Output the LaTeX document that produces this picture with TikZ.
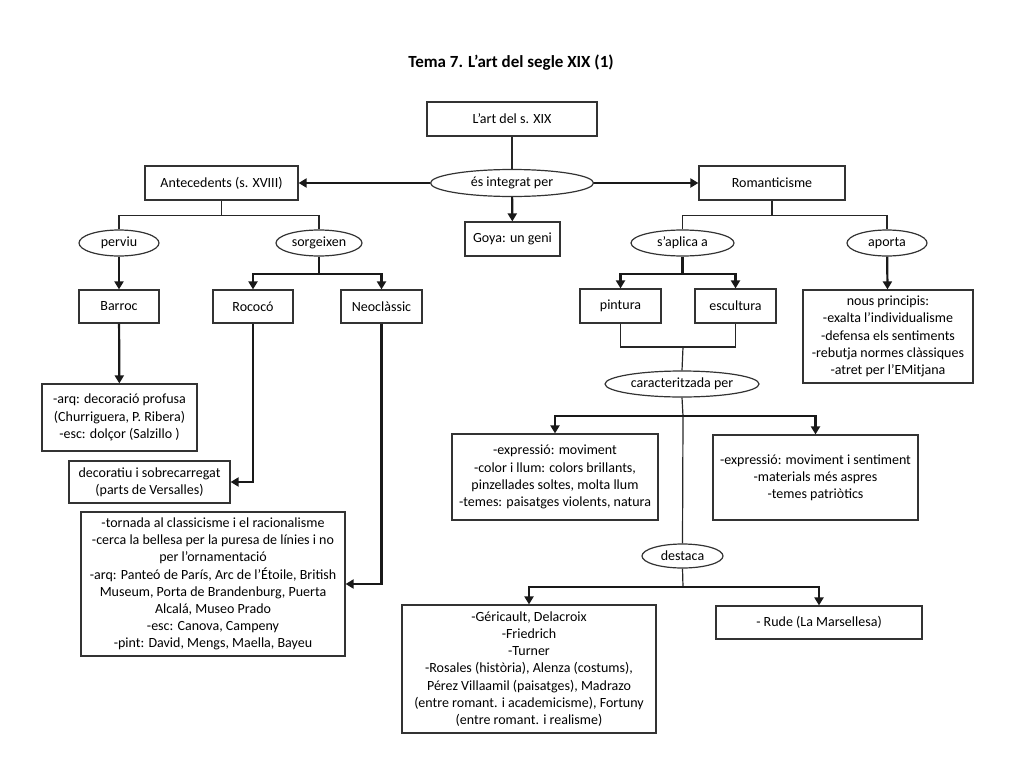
\documentclass[tikz,border=0pt]{standalone}
\usepackage{fontspec}
\setmainfont{Carlito}
\usepackage{tikz}
\usetikzlibrary{shapes,arrows.meta,calc}

\begin{document}
\begin{tikzpicture}[x=1pt,y=-1pt,
  font=\fontsize{14}{17.2}\selectfont,
  box/.style={draw=black!80,line width=1.2pt,inner sep=0pt,align=center},
  oval/.style={draw=black!80,line width=1.2pt,ellipse,inner sep=0pt},
  link/.style={line width=1.2pt,black!85},
  fat/.style={line width=2.2pt,black!90},
  arr/.style={fat,-{Triangle[width=9pt,length=8pt]}}] % pixels, y going down
\useasboundingbox (0,0) rectangle (1024,768);

\node[font=\fontsize{17}{20}\selectfont\bfseries] (title) at (511,63) {Tema 7. L’art del segle XIX (1)};

% top of the map
\node[box,minimum width=170pt,minimum height=34pt] (art) at (512,119) {L’art del s. XIX};
\node[oval,minimum width=163pt,minimum height=27pt] (integ) at (512,183) {és integrat per};
\node[box,minimum width=153pt,minimum height=34pt] (ante) at (221.5,183) {Antecedents (s. XVIII)};
\node[box,minimum width=146pt,minimum height=34pt] (roma) at (772,183) {Romanticisme};
\node[box,minimum width=95pt,minimum height=34pt] (goya) at (512.5,239) {Goya: un geni};

% antecedents
\node[oval,minimum width=80pt,minimum height=26pt] (perviu) at (119,243) {perviu};
\node[oval,minimum width=86pt,minimum height=26pt] (sorg) at (319,243) {sorgeixen};
\node[box,minimum width=80pt,minimum height=33pt] (barroc) at (119,306.5) {Barroc};
\node[box,minimum width=80pt,minimum height=33pt] (rococo) at (253,306.5) {Rococó};
\node[box,minimum width=81pt,minimum height=33pt] (neo) at (381.5,306.5) {Neoclàssic};
\node[box,minimum width=155pt,minimum height=67pt] (barrtxt) at (119.5,417.5)
  {-arq: decoració profusa\\(Churriguera, P. Ribera)\\-esc: dolçor (Salzillo )};
\node[box,minimum width=161pt,minimum height=42pt] (rocotxt) at (149.5,482)
  {decoratiu i sobrecarregat\\(parts de Versalles)};
\node[box,minimum width=264pt,minimum height=144pt] (neotxt) at (213,584)
  {-tornada al classicisme i el racionalisme\\-cerca la bellesa per la puresa de línies i no\\per l’ornamentació\\-arq: Panteó de París, Arc de l’Étoile, British\\Museum, Porta de Brandenburg, Puerta\\Alcalá, Museo Prado\\-esc: Canova, Campeny\\-pint: David, Mengs, Maella, Bayeu};

% romanticisme
\node[oval,minimum width=103pt,minimum height=26pt] (aplica) at (682.5,243) {s’aplica a};
\node[oval,minimum width=80pt,minimum height=26pt] (aporta) at (887,243) {aporta};
\node[box,minimum width=81pt,minimum height=34pt] (pint) at (620.5,306) {pintura};
\node[box,minimum width=81pt,minimum height=34pt] (escul) at (735.5,306) {escultura};
\node[box,minimum width=170pt,minimum height=93pt] (nous) at (888,336.5)
  {nous principis:\\-exalta l’individualisme\\-defensa els sentiments\\-rebutja normes clàssiques\\-atret per l’EMitjana};
\node[oval,minimum width=154pt,minimum height=26pt] (caract) at (682,384) {caracteritzada per};
\node[box,minimum width=206pt,minimum height=86pt] (pinttxt) at (555,477)
  {-expressió: moviment\\-color i llum: colors brillants,\\pinzellades soltes, molta llum\\-temes: paisatges violents, natura};
\node[box,minimum width=205pt,minimum height=85pt] (escultxt) at (815.5,477.5)
  {-expressió: moviment i sentiment\\-materials més aspres\\-temes patriòtics};
\node[oval,minimum width=81pt,minimum height=24pt] (destaca) at (682.5,556) {destaca};
\node[box,minimum width=254pt,minimum height=128pt] (pintors) at (529,669)
  {-Géricault, Delacroix\\-Friedrich\\-Turner\\-Rosales (història), Alenza (costums),\\Pérez Villaamil (paisatges), Madrazo\\(entre romant. i academicisme), Fortuny\\(entre romant. i realisme)};
\node[box,minimum width=206pt,minimum height=33pt] (rude) at (819,622.5) {- Rude (La Marsellesa)};

% connectors at the top
\draw[link] (art) -- (integ);
\draw[arr] (integ.west) -- (ante.east);
\draw[arr] (integ.east) -- (roma.west);
\draw[arr] (integ) -- (goya);

% left side
\draw[link] (ante.south) -- ++(0,15) coordinate (antej);
\draw[link] (perviu.north) |- (antej) -| (sorg.north);
\draw[arr] (perviu) -- (barroc);
\draw[fat] (sorg.south) -- ++(0,17) coordinate (sorgj);
\foreach \n in {rococo,neo}{\draw[arr] (sorgj) -| (\n.north);}
\draw[arr] (barroc) -- (barrtxt);
\draw[arr] (rococo.south) |- (rocotxt.east);
\draw[arr] (neo.south) |- (neotxt.east);

% right side
\draw[link] (roma.south) -- ++(0,15) coordinate (romaj);
\draw[link] (aplica.north) |- (romaj) -| (aporta.north);
\draw[fat] (aplica.south) -- ++(0,17) coordinate (aplicaj);
\foreach \n in {pint,escul}{\draw[arr] (aplicaj) -| (\n.north);}
\draw[arr] (aporta) -- (nous);
\coordinate (pintj) at (683,347);
\draw[link] (pint.south) |- (pintj) -| (escul.south);
\draw[link] (pintj) -- (caract.north);
\coordinate (caractj) at (683,416);
\draw[link] (caract.south) -- (caractj);
\foreach \n in {pinttxt,escultxt}{\draw[arr] (caractj) -| (\n.north);}
\draw[link] (caractj) -- (destaca.north);
\coordinate (destj) at (683,587);
\draw[link] (destaca.south) -- (destj);
\foreach \n in {pintors,rude}{\draw[arr] (destj) -| (\n.north);}
\end{tikzpicture}
\end{document}
